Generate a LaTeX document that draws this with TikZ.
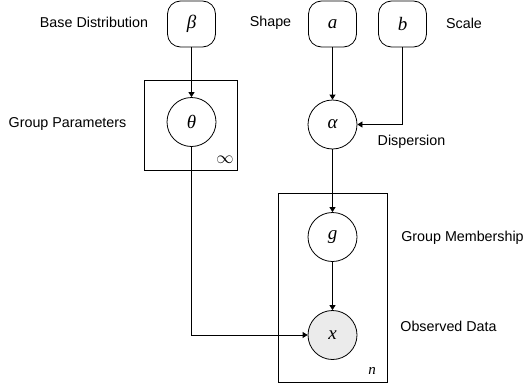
\documentclass[tikz,border=0pt]{standalone}
\usepackage{fontspec}
\setmainfont{Liberation Sans}
\newfontfamily\symfont{Liberation Serif}
\usetikzlibrary{arrows.meta}
\tikzset{
  lbl/.style={font=\fontsize{14.3}{16}\selectfont, inner sep=0pt, text height=10.3pt, text depth=3pt},
  parambox/.style={draw, line width=0.8pt, rounded corners=13pt, minimum width=48pt, minimum height=46pt, inner sep=0pt, font=\symfont\itshape\fontsize{19}{21}\selectfont},
  var/.style={draw, circle, line width=0.8pt, minimum size=49pt, inner sep=0pt, font=\symfont\itshape\fontsize{19}{21}\selectfont},
  obs/.style={var, fill=black!8},
  plate/.style={draw, line width=0.8pt},
  conn/.style={draw, line width=0.8pt, -{Triangle[length=5pt,width=6pt]}},
  platelbl/.style={inner sep=0pt, font=\symfont\fontsize{15}{17}\selectfont}
}
\begin{document}
\begin{tikzpicture}[x=1pt,y=-1pt]
\useasboundingbox (0,0) rectangle (524,388);
% plates
\draw[plate] (144,80) rectangle (237,170);
\draw[plate] (278.5,193.5) rectangle (387,382);
\node[platelbl] (inf) at (225,159.5) {\fontsize{17}{19}\selectfont$\infty$};
\node[platelbl] (nlab) at (372,371) {\itshape n};
% nodes
\node[parambox] (beta) at (191.5,24) {β};
\node[parambox] (a) at (332.5,24) {a};
\node[parambox] (b) at (402.5,24) {b};
\node[var] (theta) at (191.5,122) {θ};
\node[var] (alpha) at (332.5,124.5) {α};
\node[var] (g) at (332.5,237) {g};
\node[obs] (x) at (332.5,335) {x};
% labels
\node[lbl] (lbeta) at (94,24) {Base Distribution};
\node[lbl] (ltheta) at (67.5,124) {Group Parameters};
\node[lbl] (la) at (270.5,23) {Shape};
\node[lbl] (lb) at (464,25) {Scale};
\node[lbl] (lalpha) at (411.5,142) {Dispersion};
\node[lbl] (lg) at (462.5,238) {Group Membership};
\node[lbl] (lx) at (448.5,328) {Observed Data};
% connectors
\draw[conn] (beta) -- (theta);
\draw[conn] (a) -- (alpha);
\draw[conn] (b.south) |- (alpha.east);
\draw[conn] (alpha) -- (g);
\draw[conn] (g) -- (x);
\draw[conn] (theta.south) |- (x.west);
\end{tikzpicture}
\end{document}
